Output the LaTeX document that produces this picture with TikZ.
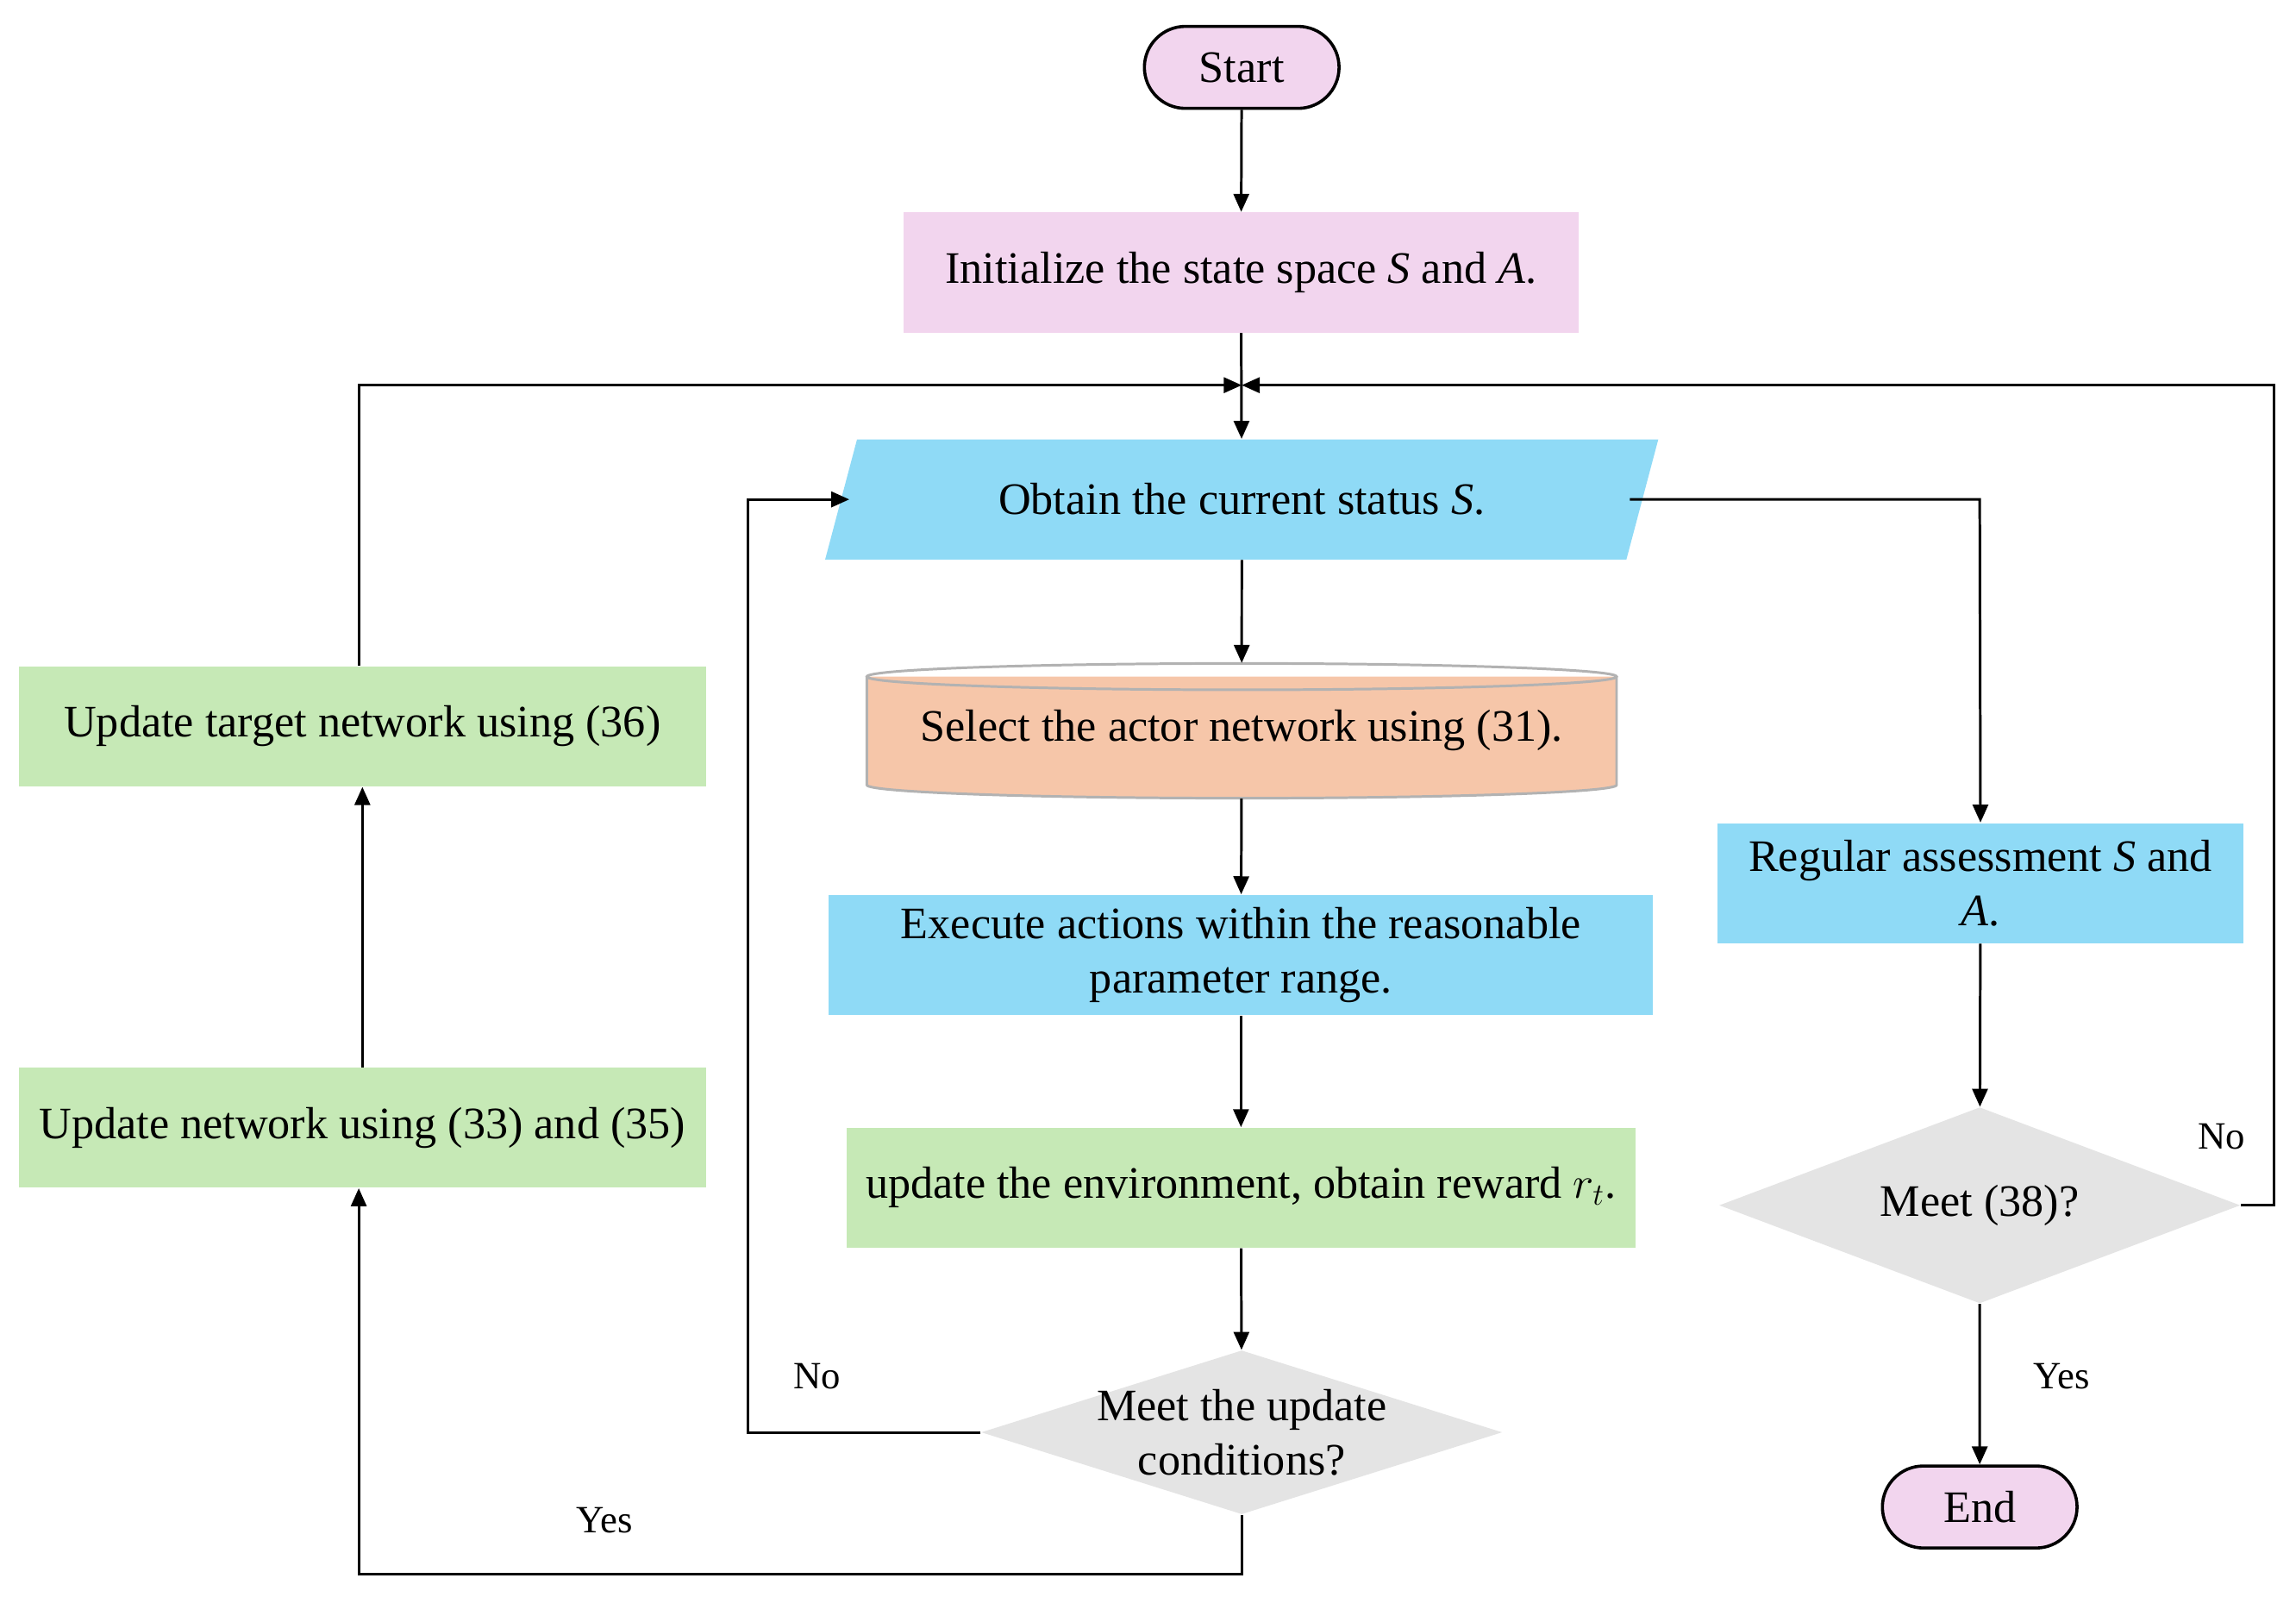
\documentclass[tikz,border=0pt]{standalone}
\usepackage{fontspec}
\setmainfont{Liberation Serif}
\usetikzlibrary{shapes.geometric,shapes.misc,arrows.meta}
\definecolor{pinkf}{HTML}{F2D5EE}
\definecolor{bluef}{HTML}{8FDAF6}
\definecolor{greenf}{HTML}{C6E9B6}
\definecolor{orangef}{HTML}{F6C6A9}
\definecolor{grayf}{HTML}{E4E4E4}
\begin{document}
\begin{tikzpicture}[x=0.02cm,y=-0.02cm,
  every node/.style={font=\fontsize{17.5}{21}\selectfont, align=center, inner sep=2pt},
  term/.style={rounded rectangle, draw, line width=1.2pt, fill=pinkf, minimum width=2.8cm, minimum height=1.12cm},
  box/.style={rectangle, minimum height=1.64cm},
  dia/.style={diamond, fill=grayf, aspect=3.2},
  arr/.style={-{Triangle[length=7pt,width=6pt]}, line width=1pt}]
\useasboundingbox (0,0) rectangle (1568,1090);
\node[term] (start) at (848,46) {Start};
\node[box, fill=pinkf, minimum width=9.22cm] (init) at (847.5,186) {Initialize the state space \textit{S} and \textit{A}.};
\coordinate (j) at (848,263);
\node[trapezium, trapezium left angle=64, trapezium right angle=116, fill=bluef, minimum width=11.4cm, minimum height=1.64cm, trapezium stretches=true] (obt) at (848,341) {Obtain the current status \textit{S}.};
\fill[orangef] (592,462) rectangle (1104,536);
\fill[orangef, draw=gray!60, line width=1pt] (592,462) -- (592,536) arc[start angle=180,end angle=360,x radius=256,y radius=-9] -- (1104,462);
\draw[gray!60, line width=1pt] (848,462) ellipse[x radius=256, y radius=9];
\node[minimum width=10.24cm, minimum height=1.84cm] (sel) at (848,499) {Select the actor network using (31).};
\node[box, fill=bluef, minimum width=11.26cm] (exe) at (847.5,652) {Execute actions within the reasonable\\parameter range.};
\node[box, fill=greenf, minimum width=10.78cm] (env) at (847.5,811) {update the environment, obtain reward $r_t$.};
\node[dia, minimum width=7.12cm, minimum height=2.24cm, inner sep=0pt] (mu) at (848,978) {};
\node at (848,978) {Meet the update\\conditions?};
\node[box, fill=greenf, minimum width=9.38cm] (ut) at (247.5,496) {Update target network using (36)};
\node[box, fill=greenf, minimum width=9.38cm] (un) at (247.5,770) {Update network using (33) and (35)};
\node[box, fill=bluef, minimum width=7.18cm] (ra) at (1352.5,603) {Regular assessment \textit{S} and\\\textit{A}.};
\node[diamond, fill=grayf, minimum width=7.12cm, minimum height=2.68cm, aspect=2.66, inner sep=0pt] (m38) at (1352,823) {};
\node at (1352,823) {Meet (38)?};
\node[term] (end) at (1352,1029) {End};
\coordinate (l1) at (511,978); \coordinate (l2) at (511,341);
\coordinate (b1) at (848,1075); \coordinate (b2) at (245,1075);
\coordinate (t1) at (245,263);
\coordinate (r1) at (1352,341);
\coordinate (n1) at (1553,823); \coordinate (n2) at (1553,263);
\draw[arr] (start) -- (init);
\draw[arr] (init) -- (obt);
\draw[arr] (obt) -- (sel);
\draw[arr] (sel) -- (exe);
\draw[arr] (exe) -- (env);
\draw[arr] (env) -- (mu);
\draw[arr] (mu.west) -- (l1) -- (l2) -- (580,341);
\draw[arr] (mu.south) -- (b1) -- (b2) -- (un.south -| b2);
\draw[arr] (un) -- (ut);
\draw[arr] (ut.north -| t1) -- (t1) -- (j);
\draw[arr] (1113,341) -- (r1) -- (ra.north);
\draw[arr] (ra) -- (m38);
\draw[arr] (m38.east) -- (n1) -- (n2) -- (j);
\draw[arr] (m38) -- (end);
\node[font=\fontsize{15}{18}\selectfont] at (558,940) {No};
\node[font=\fontsize{15}{18}\selectfont] at (413,1038) {Yes};
\node[font=\fontsize{15}{18}\selectfont] at (1517,776) {No};
\node[font=\fontsize{15}{18}\selectfont] at (1408,940) {Yes};
\end{tikzpicture}
\end{document}
